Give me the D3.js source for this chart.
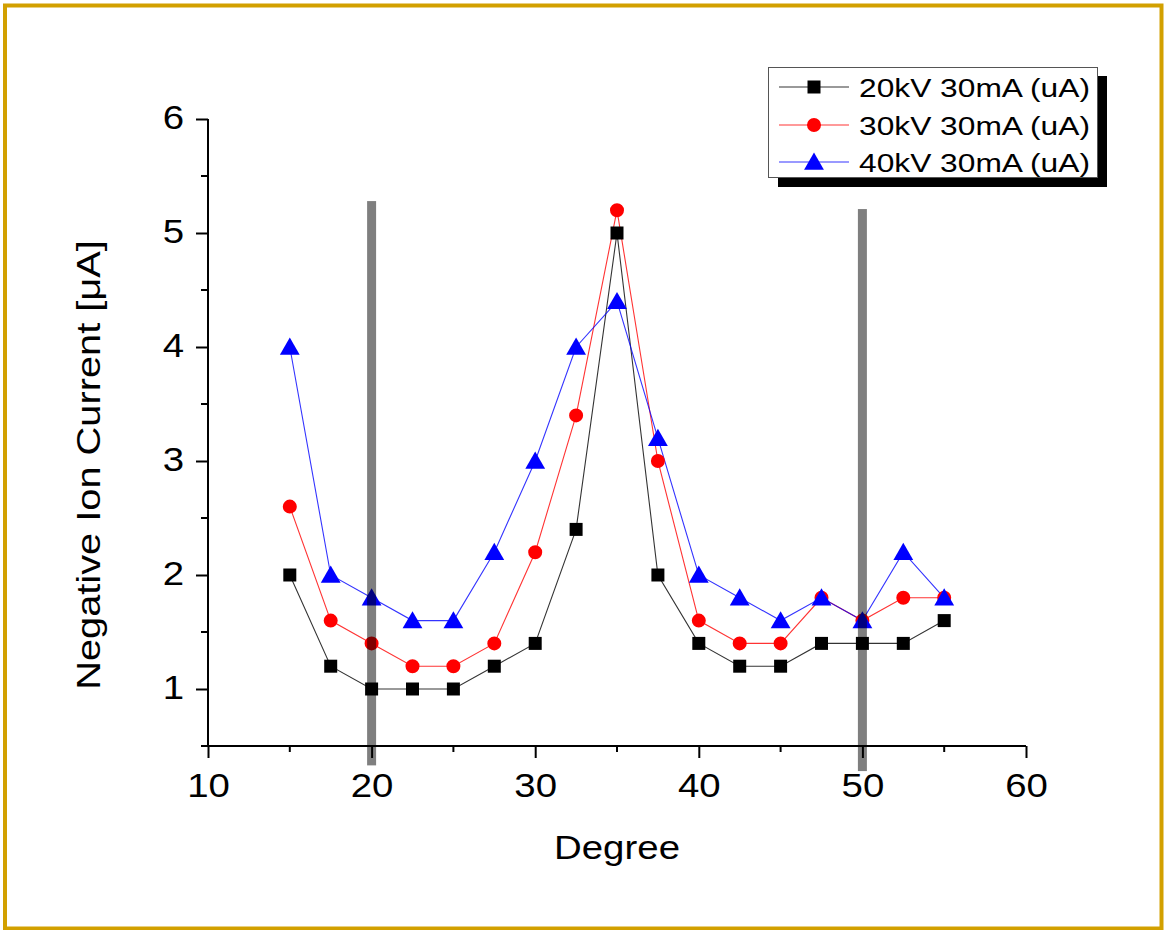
<!DOCTYPE html>
<html>
<head>
<meta charset="utf-8">
<script src="https://cdn.jsdelivr.net/npm/d3@7"></script>
<style>
  html, body { margin: 0; padding: 0; background: #fff; }
  svg { display: block; font-family: "Liberation Sans", Arial, sans-serif; }
</style>
</head>
<body>
<svg id="chart" width="1164" height="930"></svg>
<script>
// ---- data ----
const degrees = [15, 17.5, 20, 22.5, 25, 27.5, 30, 32.5, 35, 37.5, 40, 42.5, 45, 47.5, 50, 52.5, 55];
const kv20 = [2.0, 1.2, 1.0, 1.0, 1.0, 1.2, 1.4, 2.4, 5.0, 2.0, 1.4, 1.2, 1.2, 1.4, 1.4, 1.4, 1.6];
const kv30 = [2.6, 1.6, 1.4, 1.2, 1.2, 1.4, 2.2, 3.4, 5.2, 3.0, 1.6, 1.4, 1.4, 1.8, 1.6, 1.8, 1.8];
const kv40 = [4.0, 2.0, 1.8, 1.6, 1.6, 2.2, 3.0, 4.0, 4.4, 3.2, 2.0, 1.8, 1.6, 1.8, 1.6, 2.2, 1.8];
const seriesNames = ["20kV 30mA (uA)", "30kV 30mA (uA)", "40kV 30mA (uA)"];
const xTicks = [10, 20, 30, 40, 50, 60];
const yTicks = [1, 2, 3, 4, 5, 6];
const refX = [20, 50];
const refTop = [5.28, 5.21];
const refBottom = [0.33, 0.28];
const xLabel = "Degree";
const yLabel = "Negative Ion Current [\u03BCA]";

// ---- layout ----
const svg = d3.select("#chart");
const pLeft = 208, pRight = 1026, pTop = 119, pBottom = 746;
const x = d3.scaleLinear().domain([10, 60]).range([pLeft, pRight]);
const y = d3.scaleLinear().domain([0.5, 6]).range([pBottom, pTop]);
const stretch = 1.13;

// border
svg.append("rect").attr("x", 5).attr("y", 5.5).attr("width", 1156.5).attr("height", 923)
  .attr("fill", "none").attr("stroke", "#d2a000").attr("stroke-width", 4);

// axes
const xAxis = d3.axisBottom(x).tickValues(xTicks).tickSize(12).tickFormat(d3.format("d"));
const gx = svg.append("g").attr("transform", `translate(0,${pBottom})`).call(xAxis);
gx.selectAll(".tick line").attr("stroke-width", 2);
gx.select(".domain").attr("stroke-width", 2).attr("d", `M${pLeft},0H${pRight}`);
gx.selectAll("text").attr("font-size", 34).attr("fill", "#000").attr("y", 51).attr("dy", 0)
  .attr("transform", `scale(${stretch},1)`)
  .attr("font-family", "Liberation Sans, Arial, sans-serif");
const xMinor = d3.range(15, 60, 10);
gx.selectAll(".minor").data(xMinor).enter().append("line")
  .attr("x1", d => x(d)).attr("x2", d => x(d)).attr("y1", 0).attr("y2", 6)
  .attr("stroke", "#000").attr("stroke-width", 2);

const yAxis = d3.axisLeft(y).tickValues(yTicks).tickSize(12).tickFormat(d3.format("d"));
const gy = svg.append("g").attr("transform", `translate(${pLeft},0)`).call(yAxis);
gy.selectAll(".tick line").attr("stroke-width", 2);
gy.select(".domain").attr("stroke-width", 2).attr("d", `M0,${pTop}V${pBottom}`);
gy.selectAll("text").attr("font-size", 34).attr("fill", "#000")
  .attr("x", -24 / stretch).attr("dy", "0.27em")
  .attr("transform", `scale(${stretch},1)`)
  .attr("font-family", "Liberation Sans, Arial, sans-serif");
const yMinor = [0.5, 1.5, 2.5, 3.5, 4.5, 5.5];
gy.selectAll(".minor").data(yMinor).enter().append("line")
  .attr("x1", -7).attr("x2", 0).attr("y1", d => y(d)).attr("y2", d => y(d))
  .attr("stroke", "#000").attr("stroke-width", 2);

// axis titles
svg.append("text").attr("transform", `translate(${(pLeft + pRight) / 2},859) scale(${stretch},1)`)
  .attr("text-anchor", "middle")
  .attr("font-size", 34).attr("fill", "#000").text(xLabel);
svg.append("text").attr("transform", `translate(100,465) rotate(-90) scale(1.17,1)`)
  .attr("text-anchor", "middle").attr("font-size", 34).attr("fill", "#000").text(yLabel);

// series
const colors = ["#000000", "#ff0000", "#0000ff"];
const allSeries = [kv20, kv30, kv40];
const line = d3.line().x(d => x(d[0])).y(d => y(d[1]));
const shapes = [d3.symbolSquare, d3.symbolCircle, d3.symbolTriangle];
const sizes = [169, 154, 170];

allSeries.forEach((vals, i) => {
  const pts = degrees.map((d, j) => [d, vals[j]]);
  svg.append("path").datum(pts).attr("d", line).attr("fill", "none")
    .attr("stroke", colors[i]).attr("stroke-width", 1.1).attr("stroke-opacity", 0.8);
});
allSeries.forEach((vals, i) => {
  const pts = degrees.map((d, j) => [d, vals[j]]);
  svg.append("g").selectAll("path").data(pts).enter().append("path")
    .attr("transform", d => `translate(${x(d[0])},${y(d[1]) + (i === 2 ? 2 : 0)})`)
    .attr("d", d3.symbol().type(shapes[i]).size(sizes[i]))
    .attr("fill", colors[i]);
});

// reference bars (semi-transparent, on top)
svg.append("g").selectAll("rect").data(refX).enter().append("rect")
  .attr("x", d => x(d) - 4.5).attr("width", 9)
  .attr("y", (d, i) => y(refTop[i]))
  .attr("height", (d, i) => y(refBottom[i]) - y(refTop[i]))
  .attr("fill", "#000").attr("fill-opacity", 0.5);

// legend
const lg = svg.append("g");
lg.append("rect").attr("x", 778).attr("y", 76).attr("width", 329).attr("height", 111).attr("fill", "#000");
lg.append("rect").attr("x", 768.5).attr("y", 67.5).attr("width", 329).attr("height", 110)
  .attr("fill", "#fff").attr("stroke", "#555").attr("stroke-width", 1);
const rowY = [87, 125, 162];
seriesNames.forEach((name, i) => {
  lg.append("line").attr("x1", 779).attr("x2", 849).attr("y1", rowY[i]).attr("y2", rowY[i])
    .attr("stroke", colors[i]).attr("stroke-width", 1.1).attr("stroke-opacity", 0.8);
  lg.append("path").attr("transform", `translate(814,${rowY[i] + (i === 2 ? 2 : 0)})`)
    .attr("d", d3.symbol().type(shapes[i]).size(sizes[i])).attr("fill", colors[i]);
  lg.append("text").attr("transform", `translate(859,${rowY[i] + 9.5}) scale(1.22,1)`)
    .attr("font-size", 26).attr("fill", "#000").text(name);
});
</script>
</body>
</html>
